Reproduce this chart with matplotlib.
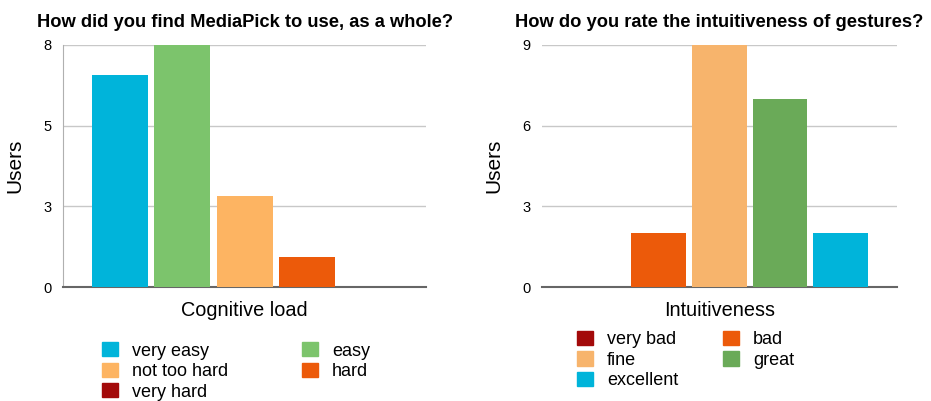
import numpy as np
import matplotlib.pyplot as plt
from matplotlib.patches import Patch

plt.rcParams['font.family'] = ['Liberation Sans', 'DejaVu Sans']

# question 1: cognitive load
load_labels = ["very easy", "easy", "not too hard", "hard", "very hard"]
load_users = [7, 8, 3, 1, 0]
load_colors = ["#00b4da", "#7cc46c", "#fdb462", "#ec5a0a", "#a30a0a"]

# question 2: intuitiveness of gestures
intu_labels = ["very bad", "bad", "fine", "great", "excellent"]
intu_users = [0, 2, 9, 7, 2]
intu_colors = ["#a30a0a", "#ec5a0a", "#f7b46c", "#6aaa58", "#00b4da"]

fig = plt.figure(figsize=(9.31, 4.01), dpi=100)
ax1 = fig.add_axes([0.0677, 0.284, 0.390, 0.604])
ax2 = fig.add_axes([0.582, 0.284, 0.381, 0.604])


def draw(ax, labels, users, colors, ymax, yticks, ticklabels, title, xlabel, show_left):
    x = np.arange(len(users))
    ax.bar(x, users, width=0.9, color=colors, zorder=3)
    ax.set_xlim(-0.92, len(users) - 1 + 0.92)
    ax.set_ylim(0, ymax)
    ax.set_yticks(yticks)
    ax.set_yticklabels(ticklabels, fontsize=10.5)
    ax.set_xticks([])
    ax.grid(axis="y", color="#c8c8c8", linewidth=1, zorder=0)
    for s in ["top", "right"]:
        ax.spines[s].set_visible(False)
    ax.spines["left"].set_visible(show_left)
    ax.spines["left"].set_color("#b0b0b0")
    ax.spines["bottom"].set_color("#666666")
    ax.spines["bottom"].set_linewidth(1.5)
    ax.tick_params(axis="y", length=0, pad=8)
    ax.set_ylabel("Users", fontsize=15, labelpad=14)
    ax.set_xlabel(xlabel, fontsize=14.3, labelpad=10)
    ax.set_title(title, fontsize=13.2, fontweight="bold", pad=13)


draw(ax1, load_labels, load_users, load_colors, 8, [0, 8 / 3, 16 / 3, 8],
     ["0", "3", "5", "8"], "How did you find MediaPick to use, as a whole?",
     "Cognitive load", True)
draw(ax2, intu_labels, intu_users, intu_colors, 9, [0, 3, 6, 9],
     ["0", "3", "6", "9"], "How do you rate the intuitiveness of gestures?",
     "Intuitiveness", False)


def legend(labels, colors, order, x, y, colspace):
    handles = [Patch(color=colors[i], label=labels[i]) for i in order]
    fig.legend(handles=handles, loc="upper left", bbox_to_anchor=(x, y),
               ncol=2, frameon=False, fontsize=13, handlelength=0.85,
               handleheight=0.85, handletextpad=0.8, labelspacing=0.17,
               columnspacing=colspace, borderpad=0, borderaxespad=0)


legend(load_labels, load_colors, [0, 2, 4, 1, 3], 0.110, 0.147, 4.1)
legend(intu_labels, intu_colors, [0, 2, 4, 1, 3], 0.620, 0.175, 2.5)

fig.savefig("out.png", dpi=100)
